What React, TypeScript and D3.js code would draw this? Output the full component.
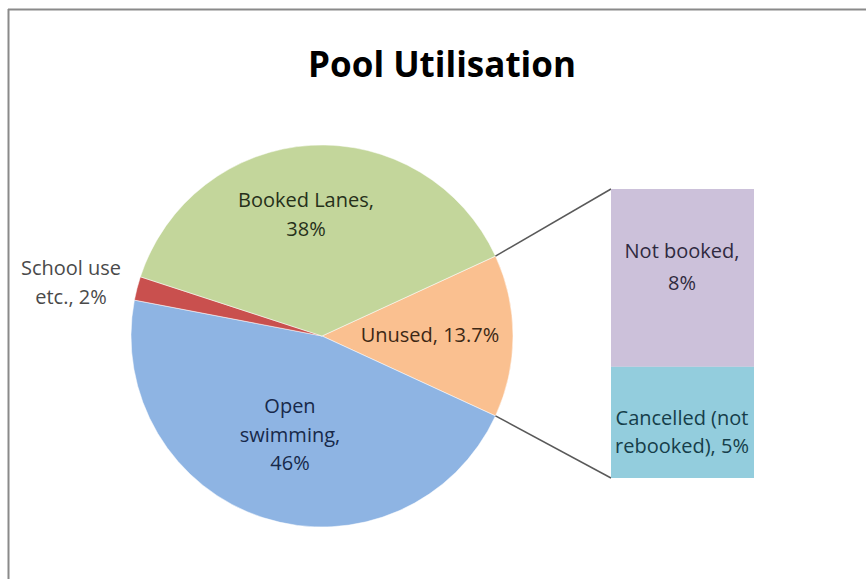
import React from "react";
import * as d3 from "d3";

const pieCategories = ["Unused", "Open swimming", "School use etc.", "Booked Lanes"];
const pieValues = [13.7, 46, 2, 38];
const pieLabels = [["Unused, 13.7%"], ["Open", "swimming,", "46%"], ["School use", "etc., 2%"], ["Booked Lanes,", "38%"]];
const pieColors = ["#FAC090", "#8EB4E3", "#C9504E", "#C3D69B"];
const pieTextColors = ["#3d2815", "#17294a", "#4a4a4a", "#26301a"];

const barCategories = ["Not booked", "Cancelled (not rebooked)"];
const barValues = [8, 5];
const barLabels = [["Not booked,", "8%"], ["Cancelled (not", "rebooked), 5%"]];
const barColors = ["#CCC1DA", "#93CDDD"];
const barTextColors = ["#2f2a40", "#163e4a"];

export default function App() {
  const W = 866, H = 579;
  const cx = 322, cy = 336, r = 191;
  const total = d3.sum(pieValues);
  const unusedSpan = (pieValues[0] / total) * 2 * Math.PI;
  const start = Math.PI / 2 - unusedSpan / 2;
  const arcs = d3.pie<number>().sort(null).startAngle(start).endAngle(start + 2 * Math.PI)(pieValues);
  const arcGen = d3.arc<d3.PieArcDatum<number>>().innerRadius(0).outerRadius(r);

  const labelPos = [
    { x: 430, y: 342 },
    { x: 290, y: 413 },
    { x: 71, y: 275 },
    { x: 306, y: 207 },
  ];

  const barX = 611, barW = 143, barTop = 189, barBottom = 478;
  const barScale = d3.scaleLinear().domain([0, d3.sum(barValues)]).range([barTop, barBottom]);
  const cum = d3.cumsum(barValues);
  const barRects = barValues.map((v, i) => ({ y0: barScale(cum[i] - v), y1: barScale(cum[i]) }));

  const ua = arcs[0];
  const p1 = [cx + r * Math.sin(ua.startAngle), cy - r * Math.cos(ua.startAngle)];
  const p2 = [cx + r * Math.sin(ua.endAngle), cy - r * Math.cos(ua.endAngle)];

  const font = "'Open Sans', 'DejaVu Sans', sans-serif";

  return (
    <svg width={W} height={H} style={{ position: "absolute", left: 0, top: 0, background: "#fff" }}>
      <line x1={8} y1={9.5} x2={W} y2={9.5} stroke="#8a8a8a" strokeWidth={2} />
      <line x1={8.5} y1={9} x2={8.5} y2={H} stroke="#8a8a8a" strokeWidth={2} />
      <text x={442} y={77} textAnchor="middle" fontFamily={font} fontWeight="bold" fontSize={35} fill="#000">
        Pool Utilisation
      </text>
      <g transform={`translate(${cx},${cy})`}>
        {arcs.map((a, i) => (
          <path key={pieCategories[i]} d={arcGen(a) || ""} fill={pieColors[i]} stroke="#fff" strokeWidth={0.5} />
        ))}
      </g>
      <line x1={p1[0]} y1={p1[1]} x2={barX} y2={barTop} stroke="#595959" strokeWidth={1.5} />
      <line x1={p2[0]} y1={p2[1]} x2={barX} y2={barBottom} stroke="#595959" strokeWidth={1.5} />
      {barRects.map((b, i) => (
        <rect key={barCategories[i]} x={barX} y={b.y0} width={barW} height={b.y1 - b.y0} fill={barColors[i]} />
      ))}
      {pieLabels.map((lines, i) => (
        <text key={"pl" + i} x={labelPos[i].x} y={labelPos[i].y} textAnchor="middle" fontFamily={font} fontSize={20} fill={pieTextColors[i]}>
          {lines.map((l, j) => (
            <tspan key={j} x={labelPos[i].x} dy={j === 0 ? 0 : 28.5}>{l}</tspan>
          ))}
        </text>
      ))}
      {barLabels.map((lines, i) => {
        const ys = [258, 425];
        return (
          <text key={"bl" + i} x={682} y={ys[i]} textAnchor="middle" fontFamily={font} fontSize={20} fill={barTextColors[i]}>
            {lines.map((l, j) => (
              <tspan key={j} x={682} dy={j === 0 ? 0 : j === 1 && i === 0 ? 32 : 28}>{l}</tspan>
            ))}
          </text>
        );
      })}
    </svg>
  );
}
